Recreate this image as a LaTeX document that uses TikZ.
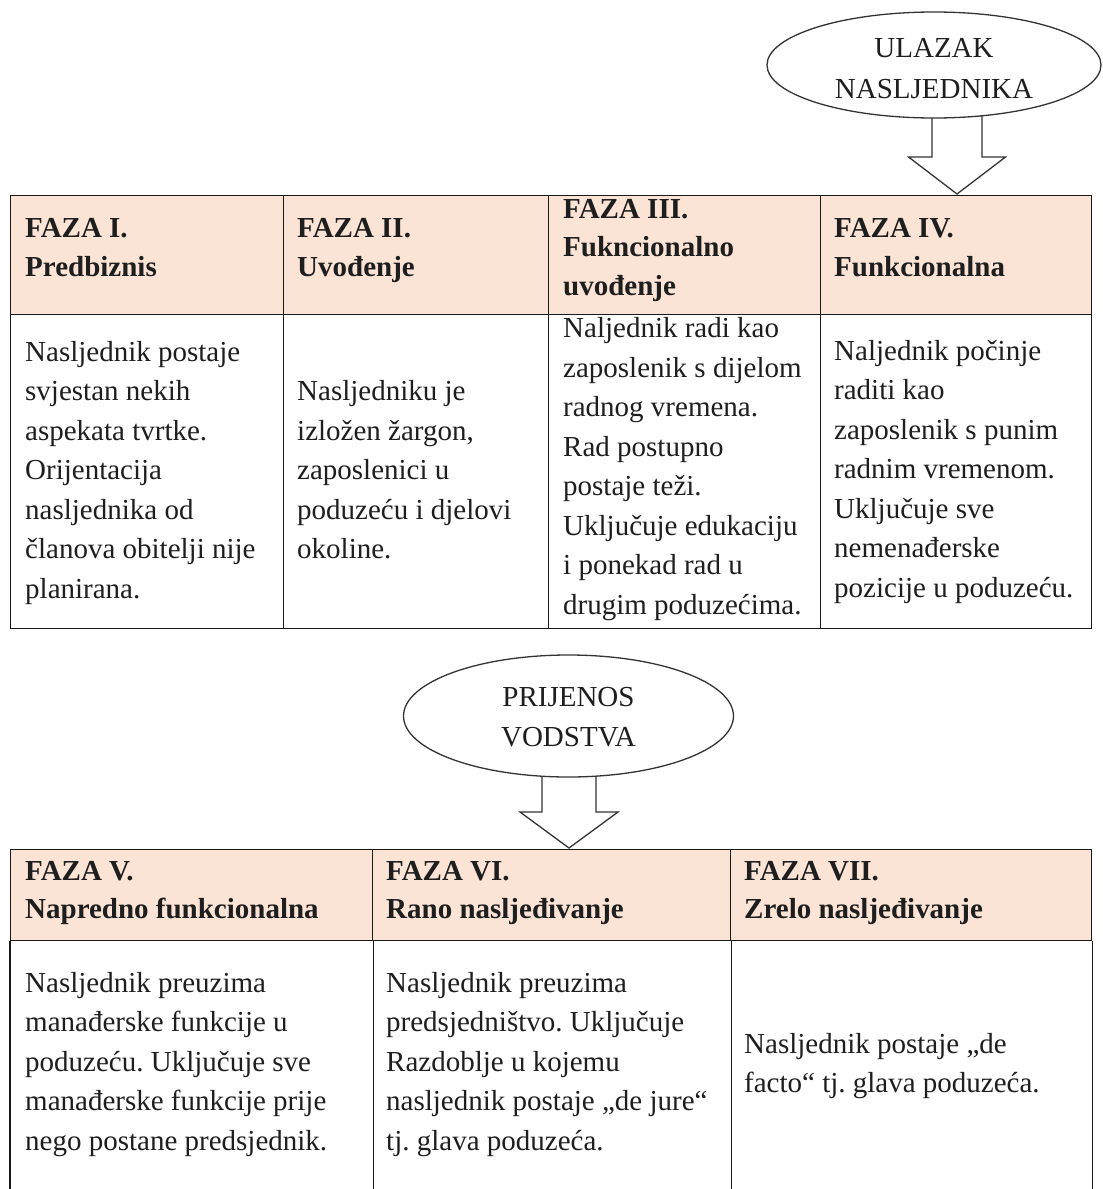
\documentclass[tikz,border=0pt]{standalone}
\usepackage{fontspec}
\setmainfont{Liberation Serif}
\usetikzlibrary{shapes.geometric,calc,backgrounds}
\definecolor{hfill}{HTML}{FBE4D5}
\definecolor{ink}{HTML}{1E1E1E}
\frenchspacing
\newcommand{\celllines}[2]{\vtop{\baselineskip=#1pt\lineskiplimit=-100pt\halign{##\hfil\cr#2\crcr}}}
\newcommand{\midlines}[3]{\raisebox{#1}[\height][\depth]{\vtop{\baselineskip=#2pt\lineskiplimit=-100pt\halign{\hfil##\hfil\cr#3\crcr}}}}
\tikzset{
  tbl/.style={draw=black!90, line width=1.4pt},
  hcell/.style={tbl, fill=hfill, anchor=north west, inner sep=0pt, minimum height=119pt},
  bcell/.style={tbl, anchor=north west, inner sep=0pt, minimum height=314pt},
  hcellb/.style={tbl, fill=hfill, anchor=north west, inner sep=0pt, minimum height=91pt},
  body/.style={anchor=base west, inner sep=0pt, text=ink, font=\fontsize{29}{39.5}\selectfont},
  head/.style={anchor=base west, inner sep=0pt, text=ink, font=\fontsize{29}{38.5}\selectfont\bfseries},
  ell/.style={ellipse, draw=black!80, line width=1.3pt, fill=white, inner sep=0pt, text=ink, font=\fontsize{29}{41}\selectfont},
  blockarrow/.style={draw=black!80, line width=1.3pt, fill=white, line join=miter},
}
\begin{document}
\begin{tikzpicture}[x=1pt, y=-1pt]
\useasboundingbox (0,0) rectangle (1103,1189);
\coordinate (bot) at (0,1189);

% ellipses
\node[ell, minimum width=334pt, minimum height=106pt] (e1) at (934,65) {\midlines{-4pt}{41}{ULAZAK\cr NASLJEDNIKA}};
\node[ell, minimum width=330pt, minimum height=122pt] (e2) at (568.5,716) {\midlines{-1pt}{40}{PRIJENOS\cr VODSTVA}};

% block arrows (behind the ellipses)
\coordinate (t1) at (957,194);
\coordinate (t2) at (569,848);
\begin{scope}[on background layer]
\draw[blockarrow] ($(t1)+(-25,-130)$) -- ($(t1)+(-25,-37)$) -- ($(t1)+(-48.5,-37)$) -- (t1)
  -- ($(t1)+(48.5,-37)$) -- ($(t1)+(25,-37)$) -- ($(t1)+(25,-130)$);
\draw[blockarrow] ($(t2)+(-27,-140)$) -- ($(t2)+(-27,-36)$) -- ($(t2)+(-49,-36)$) -- (t2)
  -- ($(t2)+(49,-36)$) -- ($(t2)+(27,-36)$) -- ($(t2)+(27,-140)$);
\end{scope}

% table 1
\node[hcell, minimum width=273pt] (h1) at (10,195) {};
\node[hcell, minimum width=265pt] (h2) at (283,195) {};
\node[hcell, minimum width=272pt] (h3) at (548,195) {};
\node[hcell, minimum width=271pt] (h4) at (820,195) {};
\node[bcell, minimum width=273pt] (b1) at (10,314) {};
\node[bcell, minimum width=265pt] (b2) at (283,314) {};
\node[bcell, minimum width=272pt] (b3) at (548,314) {};
\node[bcell, minimum width=271pt] (b4) at (820,314) {};

\node[head] (th1) at (25,237.5) {\celllines{38.5}{FAZA I.\cr Predbiznis}};
\node[head] (th2) at (297,237.5) {\celllines{38.5}{FAZA II.\cr Uvođenje}};
\node[head] (th3) at (563,218) {\celllines{38.5}{FAZA III.\cr Fukncionalno\cr uvođenje}};
\node[head] (th4) at (834,237.5) {\celllines{38.5}{FAZA IV.\cr Funkcionalna}};

\node[body] (tb1) at (25,361) {\celllines{39.5}{Nasljednik postaje\cr svjestan nekih\cr aspekata tvrtke.\cr Orijentacija\cr nasljednika od\cr članova obitelji nije\cr planirana.}};
\node[body] (tb2) at (297,400.5) {\celllines{39.5}{Nasljedniku je\cr izložen žargon,\cr zaposlenici u\cr poduzeću i djelovi\cr okoline.}};
\node[body] (tb3) at (563,337.5) {\celllines{39.5}{Naljednik radi kao\cr zaposlenik s dijelom\cr radnog vremena.\cr Rad postupno\cr postaje teži.\cr Uključuje edukaciju\cr i ponekad rad u\cr drugim poduzećima.}};
\node[body] (tb4) at (834,360) {\celllines{39.5}{Naljednik počinje\cr raditi kao\cr zaposlenik s punim\cr radnim vremenom.\cr Uključuje sve\cr nemenađerske\cr pozicije u poduzeću.}};

% table 2
\node[hcellb, minimum width=362pt] (h5) at (10,849) {};
\node[hcellb, minimum width=358pt] (h6) at (372,849) {};
\node[hcellb, minimum width=361pt] (h7) at (730,849) {};
\draw[tbl] (h5.south west) -- (h5.south west |- bot);
\draw[tbl] (h5.south east) -- (h5.south east |- bot);
\draw[tbl] (h6.south east) -- (h6.south east |- bot);
\draw[tbl] (h7.south east) -- (h7.south east |- bot);

\node[head] (th5) at (25,880) {\celllines{38.5}{FAZA V.\cr Napredno funkcionalna}};
\node[head] (th6) at (386,880) {\celllines{38.5}{FAZA VI.\cr Rano nasljeđivanje}};
\node[head] (th7) at (744,880) {\celllines{38.5}{FAZA VII.\cr Zrelo nasljeđivanje}};

\node[body] (tb5) at (25,992) {\celllines{39.5}{Nasljednik preuzima\cr manađerske funkcije u\cr poduzeću. Uključuje sve\cr manađerske funkcije prije\cr nego postane predsjednik.}};
\node[body] (tb6) at (386,992) {\celllines{39.5}{Nasljednik preuzima\cr predsjedništvo. Uključuje\cr Razdoblje u kojemu\cr nasljednik postaje „de jure“\cr tj. glava poduzeća.}};
\node[body] (tb7) at (744,1053) {\celllines{39.5}{Nasljednik postaje „de\cr facto“ tj. glava poduzeća.}};
\end{tikzpicture}
\end{document}
